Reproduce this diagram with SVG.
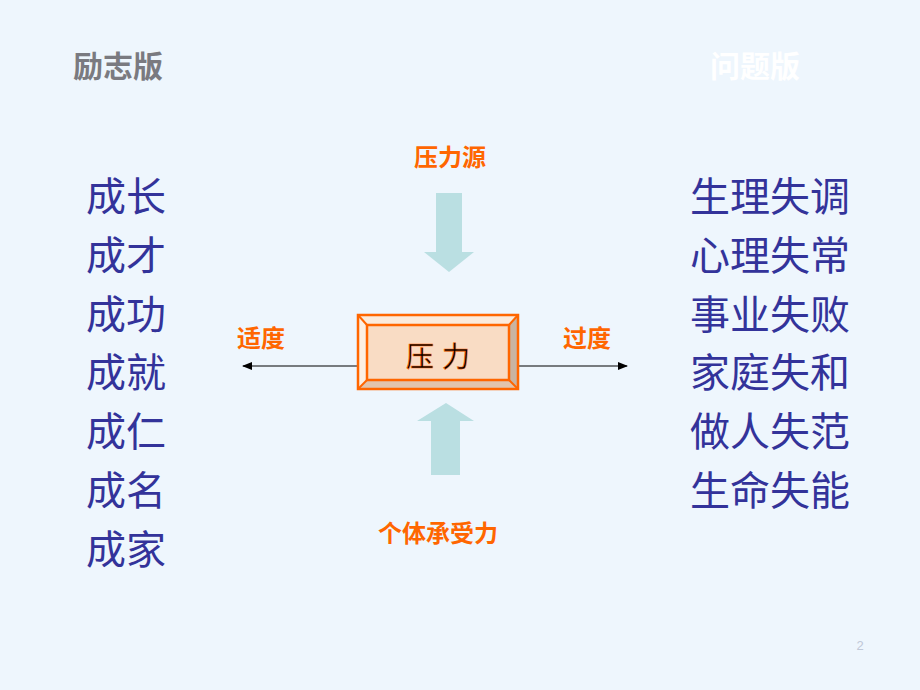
<svg xmlns="http://www.w3.org/2000/svg" width="920" height="690" viewBox="0 0 920 690">
<style>
.f{font-family:"Liberation Sans","Noto Sans CJK SC",sans-serif}
.big{font-size:40px;fill:#33339A}
.or{font-size:24px;fill:#FF6600;font-weight:bold}
</style>
<defs><marker id="ah" markerWidth="10" markerHeight="8" refX="9" refY="4" orient="auto-start-reverse" markerUnits="userSpaceOnUse"><path d="M0,0 L10,4 L0,8 Z" fill="#000"/></marker></defs>
<rect width="920" height="690" fill="#EEF6FD"/>
<text class="f" x="73" y="77" font-size="30" font-weight="bold" fill="#7A7A80">励志版</text>
<text class="f" x="710" y="77" font-size="30" font-weight="bold" fill="#FFFFFF">问题版</text>
<g id="left" class="f big">
<text x="86" y="211">成长</text><text x="86" y="270">成才</text><text x="86" y="329">成功</text><text x="86" y="387">成就</text><text x="86" y="446">成仁</text><text x="86" y="505">成名</text><text x="86" y="564">成家</text>
</g>
<g id="right" class="f big">
<text x="690" y="211">生理失调</text><text x="690" y="270">心理失常</text><text x="690" y="329">事业失败</text><text x="690" y="387">家庭失和</text><text x="690" y="446">做人失范</text><text x="690" y="505">生命失能</text>
</g>
<g id="connectors">
<line x1="358" y1="366" x2="243" y2="366" stroke="#000" stroke-width="1" marker-end="url(#ah)"/>
<line x1="518" y1="366" x2="627" y2="366" stroke="#000" stroke-width="1" marker-end="url(#ah)"/>
<polygon id="down" points="436,193 462,193 462,252 474,252 449,272 424,252 436,252" fill="#BADFE2"/>
<polygon id="up" points="431,475 460,475 460,421 474,421 446,403 417,421 431,421" fill="#BADFE2"/>
</g>
<g id="source"><text class="f or" x="450" y="166" text-anchor="middle">压力源</text></g>
<g id="bear"><text class="f or" x="438" y="542" text-anchor="middle">个体承受力</text></g>
<g id="mod"><text class="f or" x="237" y="347">适度</text></g>
<g id="over"><text class="f or" x="563" y="347">过度</text></g>
<g id="pressure">
<rect x="358" y="315" width="160" height="74" fill="#F9DCC4"/>
<polygon points="358,315 518,315 509,325 367,325" fill="#FBEBDC"/>
<polygon points="358,315 367,325 367,380 358,389" fill="#FCEFE3"/>
<polygon points="518,315 509,325 509,380 518,389" fill="#C9B4A2"/>
<polygon points="358,389 367,380 509,380 518,389" fill="#E2C5AD"/>
<rect x="358" y="315" width="160" height="74" fill="none" stroke="#FF6600" stroke-width="2.5"/>
<rect x="367" y="325" width="142" height="55" fill="none" stroke="#FF6600" stroke-width="2.5"/>
<g stroke="#FF6600" stroke-width="2"><line x1="358" y1="315" x2="367" y2="325"/><line x1="518" y1="315" x2="509" y2="325"/><line x1="358" y1="389" x2="367" y2="380"/><line x1="518" y1="389" x2="509" y2="380"/></g>
<text class="f" x="438" y="367" font-size="28" fill="#000" text-anchor="middle" stroke="#FF6600" stroke-width="0.6">压 力</text>
</g>
<text class="f" x="860" y="650" font-size="13" fill="#C0C8D8" text-anchor="middle">2</text>
</svg>
